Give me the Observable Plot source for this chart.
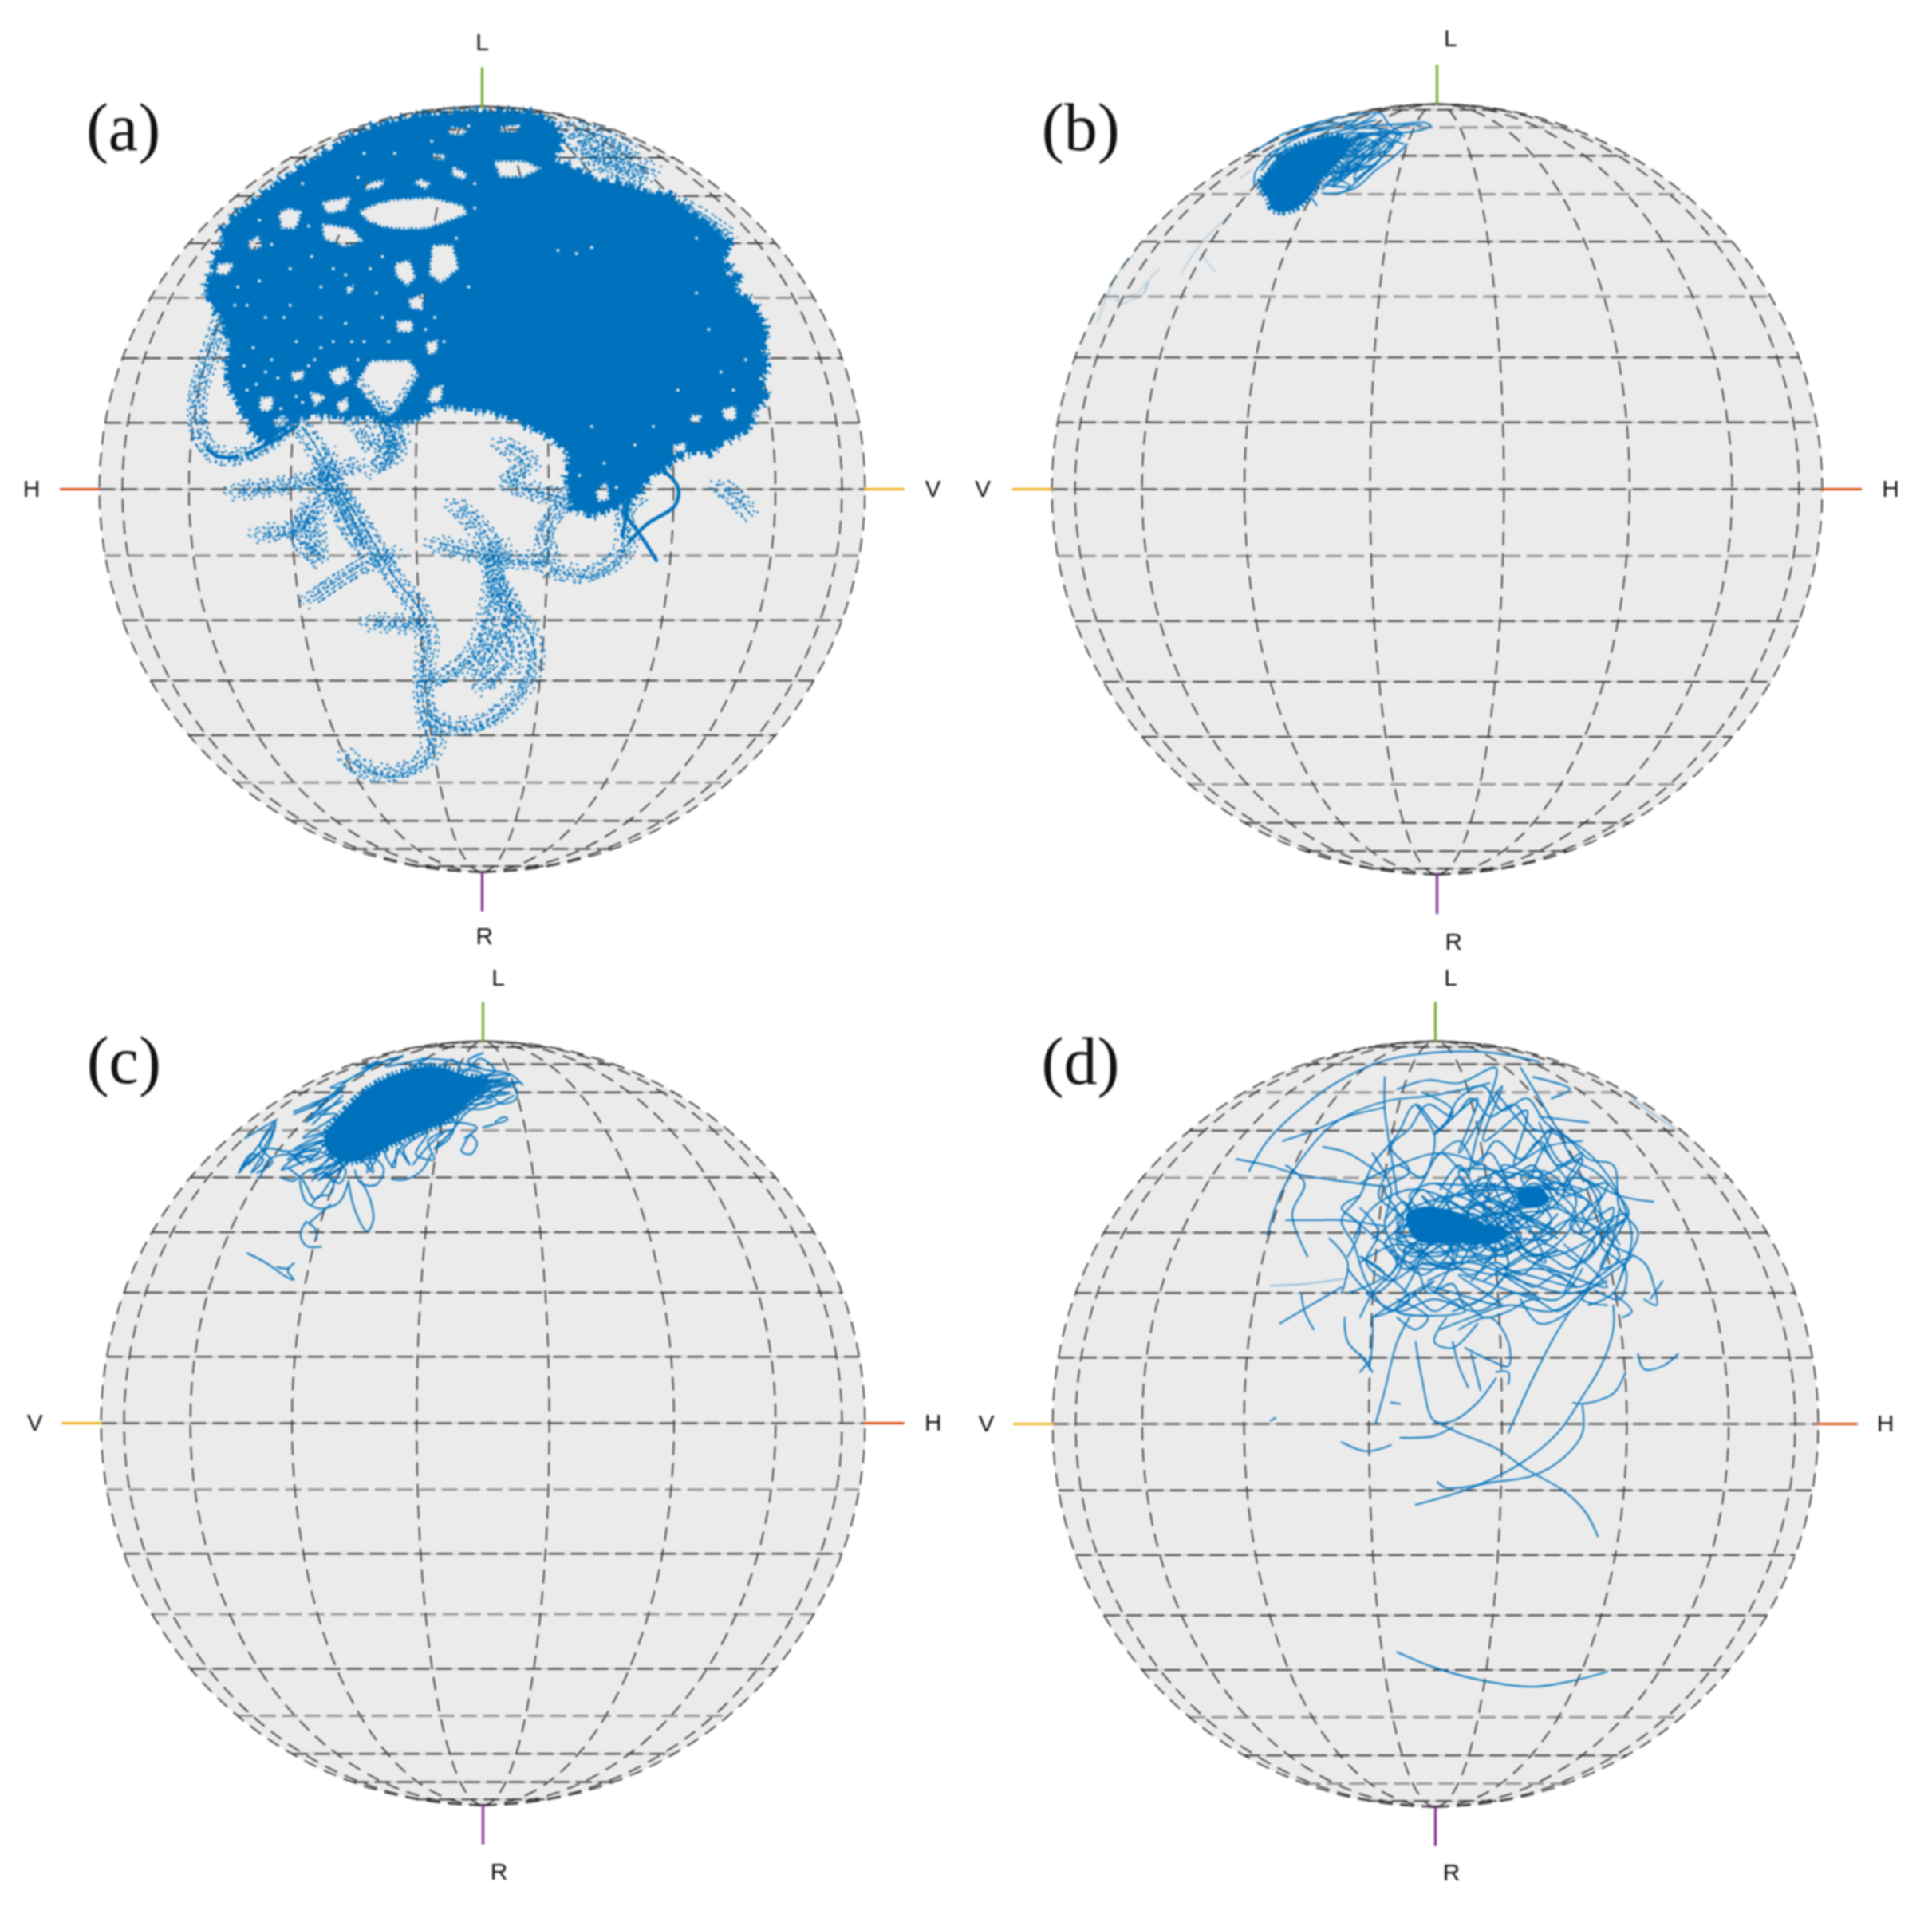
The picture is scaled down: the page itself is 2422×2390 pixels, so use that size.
<!DOCTYPE html>
<html><head><meta charset="utf-8">
<style>
html,body{margin:0;padding:0;background:#fff}
#wrap{position:relative;width:2422px;height:2390px;overflow:hidden}
#wrap svg{position:absolute;filter:blur(0.9px)}
#wrap svg path{fill-rule:evenodd}
</style>
<script src="https://cdn.jsdelivr.net/npm/d3@7"></script>
<script src="https://cdn.jsdelivr.net/npm/@observablehq/plot@0.6"></script>
</head><body><div id="wrap"></div>
<script>
const aMassOutline=[335,470,345,445,345,425,365,398,358,380,380,355,400,338,435,312,475,282,525,252,565,225,612,205,665,192,730,185,800,182,870,186,900,205,912,228,895,262,930,275,965,295,1000,300,1040,312,1085,322,1130,355,1165,380,1185,400,1172,425,1195,455,1190,475,1220,495,1235,525,1245,555,1235,575,1246,600,1232,620,1243,650,1222,675,1215,705,1190,715,1150,740,1110,742,1080,765,1050,785,1030,815,990,835,955,845,930,830,920,790,925,745,892,715,860,698,830,685,790,672,750,668,720,663,700,668,670,690,640,690,600,682,560,685,520,678,480,685,460,705,435,725,412,712,400,685,380,650,368,620,372,560,360,520,340,495];
const aHoles=[
 [580,345,610,332,640,325,700,322,750,335,760,350,720,365,690,375,650,376,620,372,595,362],
 [640,430,665,425,675,455,660,470,640,450],
 [600,590,665,590,680,615,660,650,640,680,625,690,600,665,575,630],
 [450,345,470,340,490,345,480,375,455,375],
 [700,635,720,630,715,660,690,662],
 [800,262,850,262,880,275,850,290,810,290],
 [680,290,700,300,690,310,670,300],
 [735,270,760,285,750,295,730,285],
 [520,330,570,320,560,345,530,350],
 [520,365,570,372,590,395,560,405,525,392],
 [700,400,735,400,745,440,715,465,695,450],
 [660,490,690,480,685,510,665,505],
 [640,525,670,525,670,545,645,545],
 [350,430,380,430,370,450,350,450],
 [420,650,445,650,440,675,420,675],
 [500,640,530,650,510,670],
 [1120,680,1140,680,1135,695,1120,695],
 [1170,670,1195,665,1195,690,1175,690],
 [1090,730,1115,725,1110,745,1090,750],
 [1175,438,1205,452,1200,460,1175,448],
 [965,805,985,790,990,820,970,825],
 [730,205,760,210,750,222,725,218],
 [810,205,845,203,840,215,812,216],
 [590,300,625,292,620,306,592,312],
 [700,250,725,252,720,262,700,260],
 [400,395,420,385,425,405,405,412],
 [560,470,575,465,572,480,560,482],
 [470,610,495,605,490,625,472,625],
 [545,660,565,650,565,675,548,678],
 [530,610,560,598,570,622,545,635],
 [440,690,460,680,472,692,450,706],
 [690,560,712,556,708,580,692,582]
];
const aSpecks=[430,520,470,440,395,600,520,470,560,530,610,480,480,560,420,460,450,620,540,620,590,560,505,420,620,420,400,500,460,520,540,560,365,640,500,600,620,520,560,450,760,470,740,390,720,560,905,410,935,415,960,405,1130,480,1150,540,1170,610,1100,640,1190,640,1060,700,1030,730,980,760,960,700,1210,590,1130,390,770,340,640,250,700,230,760,205,840,205,580,290,490,300,420,360,940,780,1000,800,590,250,380,500,410,570,440,590,470,500,520,520,580,590,540,440,440,400,600,440,630,560,690,540,650,600,705,520,770,300,500,370,520,570,385,470,415,630,455,670,490,660,430,610,510,590,570,560,480,650,400,640];
const aStrands=[
 [360,520,335,590,318,650,322,710,345,745,385,750,430,730,470,690],
 [375,805,430,800,490,790,540,775,580,760],
 [480,690,510,730,540,790,580,850,610,900,640,950,680,1000,695,1050,685,1110,690,1170,705,1220,680,1255,630,1272,585,1262,560,1240],
 [415,875,470,870,510,840,520,800,530,740],
 [500,985,550,950,600,920,640,910],
 [510,850,515,920],
 [570,625,630,700,640,745,600,770],
 [680,620,630,700],
 [595,1020,680,1025],
 [700,890,760,905,830,920,890,915,880,870,920,820],
 [735,825,790,880,800,950,820,990,860,1040,865,1090,840,1140,790,1185,730,1195,690,1170],
 [800,950,790,1020,770,1070,720,1110,690,1120],
 [810,725,860,760,820,790,880,810,920,820],
 [880,930,950,945,1000,920,1020,880,1010,840,1035,815],
 [1165,795,1190,812,1215,840],
 [925,225,990,255,1060,280],
 [945,250,1000,275,1040,295],
 [920,205,980,225,1025,250],
 [1070,320,1130,350,1180,385],
 [540,800,560,860,590,900,560,830,530,790],
 [815,885,800,940,830,1000,800,1060,770,1110],
 [780,1130,830,1080,820,1040],
 [500,830,480,880,510,910],
 [610,660,640,720,620,760],
 [580,690,600,730,650,720]
];
const aSolid=[
 [1075,770,1100,800,1095,830,1050,860,1020,890],
 [1010,840,1040,880,1065,920],
 [1020,820,1010,880],
 [335,735,350,748,385,750],
 [400,745,440,725,480,700]
];
const bCore=[850,650,900,570,970,530,1040,510,1080,530,1050,600,1000,670,970,730,940,770,895,795,860,785,848,745,825,690];
const bLoops=[
 [970,530,1050,490,1120,480,1190,490,1230,510],
 [1000,600,1060,530,1130,500,1210,500,1180,560],
 [1040,640,1100,570,1160,530,1200,540,1160,600,1090,680],
 [1000,710,1060,650,1120,590,1180,570,1130,640,1060,720,1000,725],
 [1020,560,1090,540,1140,560,1100,620,1040,680],
 [1000,520,1070,500,1140,470,1190,520,1230,540],
 [1060,600,1120,530,1090,500,1040,560,1010,650],
 [1030,700,1070,620,1130,560,1170,510,1120,510,1070,560],
 [810,700,815,640,860,590,930,545],
 [810,570,880,510,960,470,1050,440,1130,425,1165,425,1190,470,1225,500],
 [1130,470,1220,465,1290,460,1305,472,1270,490,1200,500],
 [1160,520,1230,470,1280,470],
 [970,740,985,770],
 [950,480,1020,460,1090,470,1150,430],
 [1240,540,1200,590,1150,640,1100,700,1050,725],
 [830,640,880,560,960,500,1040,480],
 [1000,700,1060,620,1010,600,1090,540,1040,570,1120,500,1080,590,1160,520,1130,600,1190,530,1150,620,1090,670,1120,580,1060,640,1030,700,1080,650,1180,560,1220,510,1170,500,1100,520,1040,540,980,600,1050,650,1110,610,1000,660,1030,600,1130,530,1060,560,990,640],
 [1050,500,1000,560,1070,530,1020,620,1100,560,1050,680,1130,580,1070,610,1160,550,1100,500,1180,520,1130,560,1200,490,1090,600,1030,650,1140,620,1010,690,1080,700,1000,640],
 [880,540,960,490,900,520,1010,480,940,500,1030,470,1100,450,1060,480,1150,450],
 [830,620,850,580,900,550,840,660,820,710,860,620,900,560]
];
const bFaint=[
 [770,670,800,640],
 [740,810,690,870,640,950,605,1025],
 [660,950,680,990,700,1020],
 [370,1210,400,1100,440,1000,470,960],
 [500,1100,520,1040,545,1010],
 [420,1130,480,1100,510,1060,500,1100,440,1140]
];
const cCore=[540,560,610,450,700,360,800,310,900,290,1020,330,1080,340,1000,440,950,490,850,540,770,580,700,620,620,650,560,620];
const cLoops=[
 [440,460,500,430,560,400,620,340,700,290,760,260],
 [480,500,530,440,600,380],
 [260,690,310,610,380,510,340,600,290,660],
 [260,690,350,600,420,610,500,590,560,560],
 [280,560,340,520,385,490],
 [330,710,360,640,430,620,500,640],
 [620,730,640,830,680,910,700,870,690,790,660,720],
 [460,720,480,800,530,825,590,800,620,720],
 [500,810,520,780,560,770,570,730,540,690,500,720],
 [640,680,660,730,710,735,735,680,710,640,660,640],
 [400,710,440,720,490,680,550,670,600,650],
 [540,690,590,730,610,680,570,640],
 [760,715,810,715,860,680,890,620],
 [480,875,462,920,480,965,530,968],
 [480,875,510,900,515,940],
 [490,880,530,840,560,810],
 [288,993,350,1030,420,1085,440,1092,420,1060,440,1030,420,1050,385,1045],
 [1000,580,990,610,1020,620,1040,580,1020,550,1000,580],
 [1060,520,1090,510,1140,490,1130,480,1100,500],
 [1090,400,1120,430,1170,410,1165,370,1130,370,1100,400],
 [1060,240,1010,270,1060,300,1150,320,1190,360],
 [760,670,780,620,800,580],
 [830,660,880,590,930,540],
 [920,580,960,530,1000,470],
 [1000,470,1050,430,1100,400],
 [880,520,960,500,1040,520,1000,560],
 [860,260,960,270,1050,300],
 [1000,350,1080,350,1140,340],
 [700,600,680,690,720,620],
 [420,670,470,720,510,790,560,720],
 [850,270,900,300,960,265,1000,310,1050,260,1100,310,1040,330,1150,320,1100,350,1180,350,1060,380,1150,390,1040,400,1120,340,1000,370,1090,420,980,440,1060,450,1160,400],
 [980,470,950,560,900,600,960,530,880,570,900,640,840,620,880,540,800,600,820,660,780,600,770,670,740,620,760,560,700,640,720,590],
 [600,420,520,470,580,470,470,560,560,530,440,600,530,570,420,640,520,620,400,680,480,610,560,630,500,690,600,640,520,720,620,650,560,700],
 [620,340,560,370,600,370,500,440,440,470,540,430,480,500,560,440,500,510,600,400],
 [700,290,640,330,720,270,660,300,800,250,740,290,880,260,820,290],
 [260,690,300,620,340,640,300,690,360,580,380,500,330,590,370,650,320,690],
 [420,610,470,660,440,630,530,600,490,650,560,620,510,700,610,640,570,730,640,620,700,690,680,610],
 [1000,300,1060,320,1020,360,1110,340,1060,370,1160,350,1030,420,1090,370,970,470]
];
const dCores=[
 [715,430,745,418,800,428,840,446,880,458,866,476,800,478,730,472],
 [895,395,928,384,946,408,918,420,898,414]
];
const dLoops=[
 [460,360,490,310,540,260,600,215,680,178,760,165,850,165,930,180],
 [490,465,510,400,545,340,600,280,680,245,760,235,850,215],
 [515,310,560,295,620,270,680,255],
 [440,340,490,350,540,365,600,375,680,385],
 [520,350,550,380,530,430,555,500],
 [510,610,560,580,610,550],
 [545,560,550,590,565,620],
 [520,440,570,440,610,440,680,450],
 [580,320,620,330,680,370],
 [680,205,680,260,690,330,700,400],
 [700,225,750,210,800,215,860,190,850,240,830,300,815,370],
 [900,190,930,240,960,290,1020,340,1060,400,1080,470,1060,540],
 [920,205,980,225,950,240],
 [930,270,1010,280],
 [1000,370,1060,400,1115,410],
 [1040,480,1100,510,1115,545,1120,580,1100,570],
 [1130,540,1110,570],
 [1050,580,1050,620,1030,680,1000,730,960,790,900,840,820,880,730,908],
 [980,590,950,640,920,700,880,790],
 [1090,660,1100,685,1130,680,1155,660],
 [1070,690,1050,725,1000,742,985,740],
 [1000,745,1000,790,970,830,920,860,860,870,780,880,765,870],
 [760,770,800,790,860,815,910,850,970,885,1005,920,1025,960],
 [730,640,740,700,760,770,790,770,830,740,860,700],
 [610,805,650,820,690,810],
 [705,798,760,795,790,780],
 [665,775,680,720,700,640,720,600],
 [790,640,800,680,815,715],
 [820,660,835,720],
 [640,660,660,690],
 [660,665,640,690],
 [615,600,620,640,650,670],
 [660,600,660,640,655,680],
 [800,620,850,600,880,640,880,680,850,670,810,650],
 [860,690,880,690,880,710],
 [690,740,705,742],
 [495,770,503,765],
 [700,1150,760,1175,840,1197,920,1207,980,1198,1040,1182],
 [620,430,680,480,740,520,820,510,900,540,980,560,1040,540],
 [640,380,700,350,770,330,840,350,900,390,960,380,1020,420,1060,480],
 [690,530,740,470,800,440,870,470,940,500,1000,480,1050,440],
 [760,560,790,500,770,430,820,380,890,350,940,320,1000,310],
 [650,560,700,590,760,570,830,590,890,560,960,570,1000,520],
 [630,470,660,420,720,390,770,400,840,450,880,510,850,560,790,590],
 [730,250,760,300,750,360,720,420,740,490,710,560],
 [860,230,900,280,950,340,990,410,960,460,900,500,840,540],
 [970,560,1000,500,1030,440,1010,380,960,340,930,280],
 [1060,420,1040,500,1000,560,950,590,880,580,820,600,770,620],
 [660,330,690,390,680,450,700,510,660,560,640,600],
 [1070,440,1030,480,1070,520,1060,570,1020,555],
 [700,470,770,450,840,410,910,390,970,420,1000,460],
 [720,520,780,480,850,500,930,470,980,440,1040,460],
 [820,540,860,480,840,420,880,370,930,360,960,400],
 [640,510,700,480,760,500,830,470,900,440,950,420],
 [700,430,760,460,820,430,870,460,920,450,960,470],
 [710,450,760,420,830,470,880,440,940,480],
 [690,470,750,480,810,450,850,490,900,470],
 [750,540,800,520,860,530,920,520,980,530],
 [620,500,640,450,610,420,640,400],
 [590,470,620,510,610,560],
 [960,420,1010,440,1050,420,1020,490,980,520],
 [780,600,760,640,790,650,830,610],
 [700,600,730,620,750,600,700,570],
 [900,570,930,610,980,590,1010,550],
 [1050,560,1080,590,1065,600],
 [700,400,760,470,720,430,800,480,740,400,830,490,780,410,860,470,700,460,820,420,880,490,760,440,900,450,840,400,950,470,790,450,930,420,850,480,710,490,870,430,960,460,810,390,900,480,740,510,890,400,770,500,930,390,830,460,950,380,880,430,920,370,960,420,860,390,700,440,780,520,840,370,920,500,990,430,870,350,940,510,800,360,1000,390,760,380],
 [740,230,790,260,760,300,830,240,800,330,870,220,840,310,910,260,890,350,950,290,920,370,1000,340,970,400,1040,380,1000,460,1070,430,1030,520,1080,500,1000,570,1040,580],
 [620,560,680,530,640,500,720,570,660,600,760,540,700,590,810,590,750,550,870,580,800,530,930,570,860,520,990,550,920,510,1040,550,970,480],
 [640,420,670,460,650,510,690,540,730,520,750,560,790,545,810,580,850,560,880,530,920,550,960,530,990,550,1030,530,1060,500,1040,460,1075,430,1050,390,1020,360,985,340,960,300,920,290,890,250,850,270,820,240,790,270,750,250,720,290,690,320,720,360,680,390,700,430,660,470],
 [620,520,660,560,700,530,720,480,770,510,800,470,840,510,880,480,920,510,960,490,1000,510,1030,470,1000,430,1030,400,990,370,950,390,920,350,880,370,850,330,810,360,770,330,740,370,700,350,670,400,710,440,680,480,720,510,760,480,800,510,830,470,870,500,910,470],
 [1000,560,960,590,920,570,880,590,840,600,800,570,760,590,720,560,690,590,650,540,630,480,610,440,640,400,660,350,700,300,730,250,770,290,800,240,840,220,870,260,910,240,940,280,980,310,1010,340,1050,350,1060,420,1090,460,1070,510,1050,560,1010,580],
 [720,460,760,430,790,470,820,430,860,450,880,410,920,440,950,400,920,380,890,400,860,360,830,400,800,370,770,410,740,390,710,430,700,470,740,490,780,450,810,490,850,470,890,490,930,460,960,430],
 [760,340,800,310,830,350,860,310,900,340,930,310,960,350,1000,330,970,390,1010,410,980,450,1020,480,980,520,940,500,900,530,860,510,820,530,780,510,740,530,700,500],
 [680,440,710,410,740,450,770,400,800,440,830,410,860,440,840,490,800,500,770,470,730,500,700,480,740,430,780,480,820,460,860,490,900,470,880,430,920,410,950,440,930,470,960,490,910,500,870,520,830,500,790,520,750,510,710,520,690,490],
 [770,390,800,350,830,390,860,380,810,420,850,410,890,440,840,420,790,400,750,430,720,400,760,380,800,400,840,380,880,390,920,400,900,370,940,360,970,390,950,420,900,430,860,460,820,480,780,440,740,470]
];
const dFaint=[[495,548,550,545,620,535],[1080,240,1120,270,1150,290]];

const panels=[
 {name:"(a)",cx:604,cy:613,r:480,cal:[782,803,622,630],left:"H",right:"V",
  tags:{L:[0,1.166],R:[0.006,-1.168],left:[-1.177,0],right:[1.177,0],name:[-0.9375,0.942]},light:[30,-10,-50]},
 {name:"(b)",cx:1801,cy:613,r:483,cal:[1323,1839,1082,1449],left:"V",right:"H",
  tags:{L:[0.035,1.17],R:[0.043,-1.175],left:[-1.179,0],right:[1.177,0],name:[-0.925,0.936]},light:[70,50,30,-10,-50]},
 {name:"(c)",cx:605,cy:1784,r:479,cal:[1060,1632,1252,1437],left:"V",right:"H",
  tags:{L:[0.04,1.165],R:[0.042,-1.175],left:[-1.173,0],right:[1.178,0],name:[-0.94,0.946]},light:[50,-10,-30,-50]},
 {name:"(d)",cx:1799,cy:1785,r:480,cal:[762,775,620,629],left:"V",right:"H",
  tags:{L:[0.04,1.165],R:[0.042,-1.172],left:[-1.173,0],right:[1.175,0],name:[-0.927,0.944]},light:[60,40,-50,-70]}
];
const latitudes=[-80,-70,-60,-50,-40,-30,-20,-10,0,10,20,30,40,50,60,70,80];
const longitudes=[-90,-70,-50,-30,-10,10,30,50,70,90];
const rad=Math.PI/180, half=590;
const colors={H:"#D95319",V:"#EDB120",L:"#77AC30",R:"#7E2F8E"};
const blue="#0072BD";

const pts=(flat,cal,id)=>{const o=[];for(let i=0;i<flat.length;i+=2)o.push({id,x:(flat[i]-cal[0])/cal[2],y:(cal[1]-flat[i+1])/cal[3]});return o};
const many=(list,cal,tag)=>list.flatMap((f,i)=>pts(f,cal,tag+i));
const closed=f=>[...f,f[0],f[1]];
const ring=(outer,holes)=>{ // outer outline + zero-width bridges into holes (even-odd fill)
 const r=closed(outer);
 holes.forEach(h=>{r.push(...closed(h),outer[0],outer[1])});
 return r};
const line=(rows,opts)=>Plot.line(rows,{x:"x",y:"y",z:"id",...opts});

function graticule(p){
 const lat=latitudes.map(l=>({l,a:[-Math.cos(l*rad),Math.cos(l*rad)],y:Math.sin(l*rad)}))
   .flatMap(o=>o.a.map(x=>({id:o.l,x,y:o.y,light:p.light.includes(o.l)})));
 const lon=longitudes.flatMap(m=>d3.range(-90,90.01,3).map(t=>({id:m,x:Math.cos(t*rad)*Math.sin(m*rad),y:Math.sin(t*rad)})));
 const dash={strokeLinecap:"butt"};
 return [
  line(lat.filter(d=>!d.light),{stroke:"#b5b5b5",strokeWidth:1}),
  line(lat.filter(d=>!d.light),{stroke:"#333",strokeWidth:2,strokeDasharray:"20 8",...dash}),
  line(lat.filter(d=>d.light),{stroke:"#999",strokeWidth:3,strokeDasharray:"20 8",...dash}),
  line(lon,{stroke:"#333",strokeWidth:1.8,strokeDasharray:"17 10",...dash})
 ];
}
const scatterLayers=[
 [-9,-4,"linear","1.3 6.7 1.3 11"],[6,7,"basis","1.3 9 1.3 5"],[10,-6,"catmull-rom","1.3 7.7 1.3 8.9"],[-5,9,"cardinal","1.3 12 1.3 4.3"],
 [0,0,"natural","1.3 5.1 1.3 9.7"],[-13,3,"basis","1.3 10.3 1.3 6.1"],[3,-11,"linear","1.3 6.1 1.3 13"],[13,3,"catmull-rom","1.3 8.3 1.3 5.9"],
 [-3,-7,"cardinal","1.3 4.7 1.3 11.3"],[8,1,"natural","1.3 11.7 1.3 7.1"],[-7,5,"catmull-rom","1.3 5.7 1.3 7.9"],[3,4,"linear","1.3 9.1 1.3 4.9"],
 [-2,13,"basis","1.3 14 1.3 6.7"],[-1,-2,"catmull-rom","1.3 6.3 1.3 10.1"]
];
function traces(i,cal){
 if(i===0){
  const holes=many(aHoles.map(closed),cal,"h");
  const outer=pts(closed(aMassOutline),cal,"o");
  return [
   line(pts(ring(aMassOutline,aHoles),cal,"m"),{fill:blue,stroke:"none"}),
   line(outer,{stroke:blue,strokeWidth:9,strokeLinecap:"butt",strokeDasharray:"4 2 7 3 3 5 6 2 2 7 9 3"}),
   line(outer,{stroke:blue,strokeWidth:18,strokeLinecap:"butt",strokeDasharray:"1.6 11 2.4 17 1.6 7 3 23"}),
   line(holes,{stroke:blue,strokeWidth:5,strokeLinecap:"butt",strokeDasharray:"2 3 3 2 1.5 4"}),
   Plot.dot(pts(aSpecks,cal,"s"),{x:"x",y:"y",r:2,fill:"#ebebeb"}),
   ...scatterLayers.map(([dx,dy,curve,dash],n)=>line(many(aStrands,cal,"t"),{curve,stroke:blue,strokeWidth:2,strokeDasharray:dash,strokeDashoffset:n*1.7,dx,dy})),
   line(many(aSolid,cal,"u"),{curve:"catmull-rom",stroke:blue,strokeWidth:4.5})
  ];
 }
 const rough=(rows)=>line(rows,{curve:"catmull-rom-closed",stroke:blue,strokeWidth:9,strokeLinecap:"butt",strokeDasharray:"3 3 2 4 4 2"});
 if(i===1) return [
   line(pts(bCore,cal,"c"),{fill:blue,stroke:"none",curve:"catmull-rom-closed"}),rough(pts(bCore,cal,"c")),
   line(many(bLoops,cal,"l"),{curve:"catmull-rom",stroke:blue,strokeWidth:1.9}),
   line(many(bFaint,cal,"f"),{curve:"catmull-rom",stroke:blue,strokeWidth:1.8,strokeOpacity:0.22})
 ];
 if(i===2) return [
   line(pts(cCore,cal,"c"),{fill:blue,stroke:"none",curve:"catmull-rom-closed"}),rough(pts(cCore,cal,"c")),
   line(many(cLoops,cal,"l"),{curve:"catmull-rom",stroke:blue,strokeWidth:2})
 ];
 return [
   line(many(dCores,cal,"c"),{fill:blue,stroke:"none",curve:"catmull-rom-closed"}),
   line(many(dLoops,cal,"l"),{curve:"catmull-rom",stroke:blue,strokeWidth:1.9}),
   line(many(dFaint,cal,"f"),{curve:"catmull-rom",stroke:blue,strokeWidth:1.8,strokeOpacity:0.4})
 ];
}
panels.forEach((p,i)=>{
 const dom=half/p.r;
 const axes=[
  {k:p.left,pts:[[-1,0],[-1.1,0]]},{k:p.right,pts:[[1,0],[1.1,0]]},
  {k:"L",pts:[[0,1],[0,1.1]]},{k:"R",pts:[[0,-1],[0,-1.1]]}
 ];
 const t=p.tags;
 const labels=[{s:"L",a:t.L},{s:"R",a:t.R},{s:p.left,a:t.left},{s:p.right,a:t.right}];
 const svg=Plot.plot({
  width:half*2,height:half*2,margin:0,
  x:{domain:[-dom,dom],axis:null},y:{domain:[-dom,dom],axis:null},
  marks:[
   Plot.dot([{x:0,y:0}],{x:"x",y:"y",r:p.r,fill:"#ebebeb"}),
   ...graticule(p),
   ...traces(i,p.cal),
   ...axes.map(a=>Plot.line(a.pts,{x:d=>d[0],y:d=>d[1],stroke:colors[a.k],strokeWidth:3.2})),
   Plot.text(labels,{x:d=>d.a[0],y:d=>d.a[1],text:"s",fontSize:30,fontFamily:"Liberation Sans",fill:"#111",textAnchor:"middle",lineAnchor:"middle"}),
   Plot.text([p.name],{x:()=>t.name[0],y:()=>t.name[1],text:d=>d,fontSize:84,fontFamily:"Liberation Serif",fill:"#111",textAnchor:"middle",lineAnchor:"middle"})
  ]
 });
 svg.style.left=(p.cx-half)+"px";svg.style.top=(p.cy-half)+"px";svg.style.maxWidth="none";svg.style.background="transparent";
 document.getElementById("wrap").appendChild(svg);
});
</script></body></html>
